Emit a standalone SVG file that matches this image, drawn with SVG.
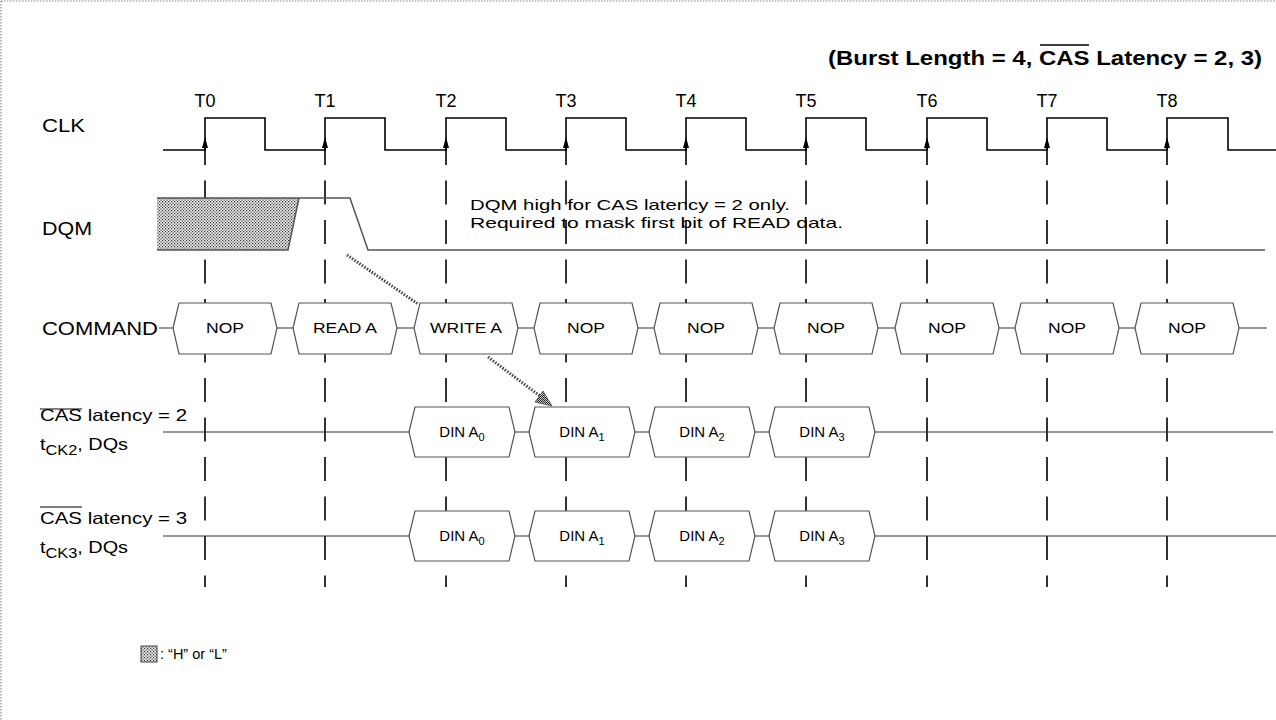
<svg xmlns="http://www.w3.org/2000/svg" width="1276" height="720" viewBox="0 0 1276 720">
<style>
.t{font-family:"Liberation Sans",Arial,Helvetica,sans-serif;fill:#000}
.lbl{font-size:18px}
.cmd{font-size:14px;text-anchor:middle}
.din{font-size:15px;text-anchor:middle}
.tl{font-size:18px;text-anchor:middle}
.box{fill:#fff;stroke:#555;stroke-width:1.2}
.sig{fill:none;stroke:#333;stroke-width:1.2}
.dash{stroke:#000;stroke-width:1.6;stroke-dasharray:24 15.5}
.dot{fill:none;stroke:#444;stroke-width:3;stroke-dasharray:1.5 1.5}
</style>
<defs>
<pattern id="hatch" width="3" height="3" patternUnits="userSpaceOnUse">
<rect width="3" height="3" fill="#eee"/>
<rect x="0" y="0" width="1.2" height="1.2" fill="#333"/>
<rect x="1.5" y="1.5" width="1.2" height="1.2" fill="#333"/>
</pattern>
<pattern id="hatch2" width="2" height="2" patternUnits="userSpaceOnUse">
<rect width="2" height="2" fill="#ccc"/>
<rect x="0" y="0" width="1" height="1" fill="#222"/>
<rect x="1" y="1" width="1" height="1" fill="#222"/>
</pattern>
</defs>
<rect width="1276" height="720" fill="#fff"/>
<g id="border" fill="none" stroke="#888" stroke-width="1.2" stroke-dasharray="1.5 1.5">
<line x1="1" y1="1" x2="1276" y2="1"/>
<line x1="1" y1="1" x2="1" y2="720"/>
</g>
<g id="title">
<text class="t" x="828" y="65" font-size="21" font-weight="bold" textLength="434" lengthAdjust="spacingAndGlyphs">(Burst Length = 4, CAS Latency = 2, 3)</text>
<line x1="1040" y1="45" x2="1089" y2="45" stroke="#000" stroke-width="1.5"/>
</g>
<g id="ticks">
<line class="dash" x1="205" y1="141" x2="205" y2="587"/>
<line class="dash" x1="325" y1="141" x2="325" y2="587"/>
<line class="dash" x1="446" y1="141" x2="446" y2="587"/>
<line class="dash" x1="566" y1="141" x2="566" y2="587"/>
<line class="dash" x1="686" y1="141" x2="686" y2="587"/>
<line class="dash" x1="806" y1="141" x2="806" y2="587"/>
<line class="dash" x1="927" y1="141" x2="927" y2="587"/>
<line class="dash" x1="1047" y1="141" x2="1047" y2="587"/>
<line class="dash" x1="1167" y1="141" x2="1167" y2="587"/>
</g>
<g id="tlabels">
<text class="t tl" x="205" y="107">T0</text>
<text class="t tl" x="325" y="107">T1</text>
<text class="t tl" x="446" y="107">T2</text>
<text class="t tl" x="566" y="107">T3</text>
<text class="t tl" x="686" y="107">T4</text>
<text class="t tl" x="806" y="107">T5</text>
<text class="t tl" x="927" y="107">T6</text>
<text class="t tl" x="1047" y="107">T7</text>
<text class="t tl" x="1167" y="107">T8</text>
</g>
<g id="clk">
<text class="t lbl" x="42" y="132" textLength="43" lengthAdjust="spacingAndGlyphs">CLK</text>
<path fill="none" stroke="#000" stroke-width="1.6" d="M163,150 H205 V118 H265 V150 H325 V118 H385 V150 H446 V118 H506 V150 H566 V118 H626 V150 H686 V118 H746 V150 H806 V118 H866 V150 H927 V118 H987 V150 H1047 V118 H1107 V150 H1167 V118 H1228 V150 H1276"/>
<g fill="#000">
<polygon points="205,137 202,148 208,148"/>
<polygon points="325,137 322,148 328,148"/>
<polygon points="446,137 443,148 449,148"/>
<polygon points="566,137 563,148 569,148"/>
<polygon points="686,137 683,148 689,148"/>
<polygon points="806,137 803,148 809,148"/>
<polygon points="927,137 924,148 930,148"/>
<polygon points="1047,137 1044,148 1050,148"/>
<polygon points="1167,137 1164,148 1170,148"/>
</g>
</g>
<g id="dqm">
<text class="t lbl" x="42" y="235" textLength="50" lengthAdjust="spacingAndGlyphs">DQM</text>
<polygon points="157,198 299,198 288,250 157,250" fill="url(#hatch)" stroke="none"/>
<path fill="none" stroke="#555" stroke-width="1.5" d="M157,198 H350 L368,250 H1265 M157,250 H288 L299,198"/>
<text class="t" x="470" y="210" font-size="15" textLength="320" lengthAdjust="spacingAndGlyphs">DQM high for CAS latency = 2 only.</text>
<text class="t" x="470" y="228" font-size="15" textLength="373" lengthAdjust="spacingAndGlyphs">Required to mask first bit of READ data.</text>
</g>
<g id="command">
<text class="t lbl" x="42" y="335" textLength="116" lengthAdjust="spacingAndGlyphs">COMMAND</text>
<line class="sig" x1="159" y1="328" x2="1267" y2="328"/>
<g id="cmd0"><path class="box" d="M173,328 L179,303 H271 L277,328 L271,354 H179 Z"/><text class="t cmd" x="225" y="333" textLength="38" lengthAdjust="spacingAndGlyphs">NOP</text></g>
<g id="cmd1"><path class="box" d="M293,328 L299,303 H391 L397,328 L391,354 H299 Z"/><text class="t cmd" x="345" y="333" textLength="64" lengthAdjust="spacingAndGlyphs">READ A</text></g>
<g id="cmd2"><path class="box" d="M414,328 L420,303 H512 L518,328 L512,354 H420 Z"/><text class="t cmd" x="466" y="333" textLength="72" lengthAdjust="spacingAndGlyphs">WRITE A</text></g>
<g id="cmd3"><path class="box" d="M534,328 L540,303 H632 L638,328 L632,354 H540 Z"/><text class="t cmd" x="586" y="333" textLength="38" lengthAdjust="spacingAndGlyphs">NOP</text></g>
<g id="cmd4"><path class="box" d="M654,328 L660,303 H752 L758,328 L752,354 H660 Z"/><text class="t cmd" x="706" y="333" textLength="38" lengthAdjust="spacingAndGlyphs">NOP</text></g>
<g id="cmd5"><path class="box" d="M774,328 L780,303 H872 L878,328 L872,354 H780 Z"/><text class="t cmd" x="826" y="333" textLength="38" lengthAdjust="spacingAndGlyphs">NOP</text></g>
<g id="cmd6"><path class="box" d="M895,328 L901,303 H993 L999,328 L993,354 H901 Z"/><text class="t cmd" x="947" y="333" textLength="38" lengthAdjust="spacingAndGlyphs">NOP</text></g>
<g id="cmd7"><path class="box" d="M1015,328 L1021,303 H1113 L1119,328 L1113,354 H1021 Z"/><text class="t cmd" x="1067" y="333" textLength="38" lengthAdjust="spacingAndGlyphs">NOP</text></g>
<g id="cmd8"><path class="box" d="M1135,328 L1141,303 H1233 L1239,328 L1233,354 H1141 Z"/><text class="t cmd" x="1187" y="333" textLength="38" lengthAdjust="spacingAndGlyphs">NOP</text></g>
</g>
<g id="dq2">
<text class="t" x="40" y="421" font-size="16.5" textLength="147" lengthAdjust="spacingAndGlyphs">CAS latency = 2</text>
<line x1="40" y1="409" x2="82" y2="409" stroke="#000" stroke-width="1.2"/>
<text class="t" x="40" y="450" font-size="17" textLength="88" lengthAdjust="spacingAndGlyphs">t<tspan font-size="14" dy="5">CK2</tspan><tspan dy="-5">, DQs</tspan></text>
<line class="sig" x1="163" y1="432" x2="1273" y2="432"/>
<g id="d2a0"><path class="box" d="M409,432 L415,407 H509 L515,432 L509,457 H415 Z"/><text class="t din" x="462" y="437">DIN A<tspan font-size="11" dy="4">0</tspan></text></g>
<g id="d2a1"><path class="box" d="M529,432 L535,407 H629 L635,432 L629,457 H535 Z"/><text class="t din" x="582" y="437">DIN A<tspan font-size="11" dy="4">1</tspan></text></g>
<g id="d2a2"><path class="box" d="M649,432 L655,407 H749 L755,432 L749,457 H655 Z"/><text class="t din" x="702" y="437">DIN A<tspan font-size="11" dy="4">2</tspan></text></g>
<g id="d2a3"><path class="box" d="M769,432 L775,407 H869 L875,432 L869,457 H775 Z"/><text class="t din" x="822" y="437">DIN A<tspan font-size="11" dy="4">3</tspan></text></g>
</g>
<g id="dq3">
<text class="t" x="40" y="524" font-size="16.5" textLength="147" lengthAdjust="spacingAndGlyphs">CAS latency = 3</text>
<line x1="40" y1="507" x2="82" y2="507" stroke="#000" stroke-width="1.2"/>
<text class="t" x="40" y="553" font-size="17" textLength="88" lengthAdjust="spacingAndGlyphs">t<tspan font-size="14" dy="5">CK3</tspan><tspan dy="-5">, DQs</tspan></text>
<line class="sig" x1="163" y1="536" x2="1276" y2="536"/>
<g id="d3a0"><path class="box" d="M409,536 L415,511 H509 L515,536 L509,561 H415 Z"/><text class="t din" x="462" y="541">DIN A<tspan font-size="11" dy="4">0</tspan></text></g>
<g id="d3a1"><path class="box" d="M529,536 L535,511 H629 L635,536 L629,561 H535 Z"/><text class="t din" x="582" y="541">DIN A<tspan font-size="11" dy="4">1</tspan></text></g>
<g id="d3a2"><path class="box" d="M649,536 L655,511 H749 L755,536 L749,561 H655 Z"/><text class="t din" x="702" y="541">DIN A<tspan font-size="11" dy="4">2</tspan></text></g>
<g id="d3a3"><path class="box" d="M769,536 L775,511 H869 L875,536 L869,561 H775 Z"/><text class="t din" x="822" y="541">DIN A<tspan font-size="11" dy="4">3</tspan></text></g>
</g>
<g id="connectors">
<line class="dot" x1="347" y1="255" x2="418" y2="304"/>
<line class="dot" x1="488" y1="357" x2="540" y2="396"/>
<polygon points="552,406 535,402 543,391" fill="url(#hatch2)" stroke="#555" stroke-width="0.8"/>
</g>
<g id="legend">
<rect x="141" y="646" width="16" height="16" fill="url(#hatch)" stroke="#444" stroke-width="1"/>
<text class="t" x="160" y="659" font-size="14.5">: “H” or “L”</text>
</g>
</svg>
